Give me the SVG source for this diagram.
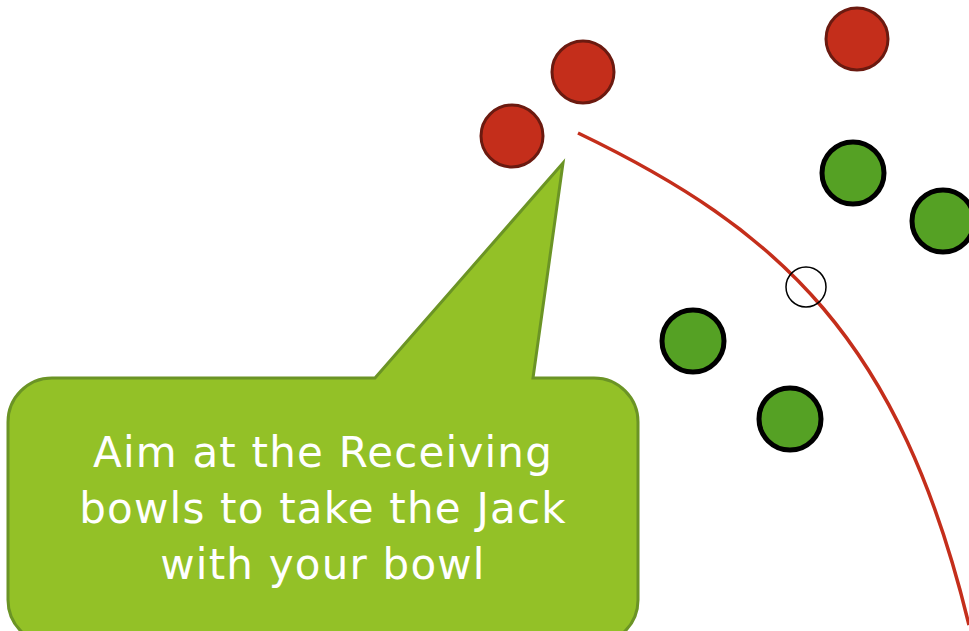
<svg xmlns="http://www.w3.org/2000/svg" width="969" height="631" viewBox="0 0 969 631">
<style>
.red{fill:#c42e1b;stroke:#6b1a10;stroke-width:3}
.grn{fill:#55a124;stroke:#000;stroke-width:5}
.jack{fill:none;stroke:#000;stroke-width:1.5}
.path{fill:none;stroke:#c42e1b;stroke-width:3.5}
.callout{fill:#93c127;stroke:#6b9425;stroke-width:3}
.lbl{font-family:"DejaVu Sans","Liberation Sans",sans-serif;font-size:42px;letter-spacing:1.2px;fill:#fff;text-anchor:middle}
</style>
<rect width="969" height="631" fill="#fff"/>
<g id="connectors">
<path class="path" d="M578,133 C780,230 900,340 969,625"/>
</g>
<g id="red1"><circle class="red" cx="512" cy="136" r="31"/></g>
<g id="red2"><circle class="red" cx="583" cy="72" r="31"/></g>
<g id="red3"><circle class="red" cx="857" cy="39" r="31"/></g>
<g id="green1"><circle class="grn" cx="853" cy="173" r="31"/></g>
<g id="green2"><circle class="grn" cx="943" cy="221" r="31"/></g>
<g id="green3"><circle class="grn" cx="693" cy="341" r="31"/></g>
<g id="green4"><circle class="grn" cx="790" cy="419" r="31"/></g>
<g id="jack"><circle class="jack" cx="806" cy="287" r="20"/></g>
<g id="callout">
<path class="callout" d="M52,378 H375 L563,163 L533,378 H594 A44,44 0 0 1 638,422 V600 A44,44 0 0 1 594,644 H52 A44,44 0 0 1 8,600 V422 A44,44 0 0 1 52,378 Z"/>
<text class="lbl" x="323" y="467">Aim at the Receiving</text>
<text class="lbl" x="323" y="523">bowls to take the Jack</text>
<text class="lbl" x="323" y="579">with your bowl</text>
</g>
</svg>
